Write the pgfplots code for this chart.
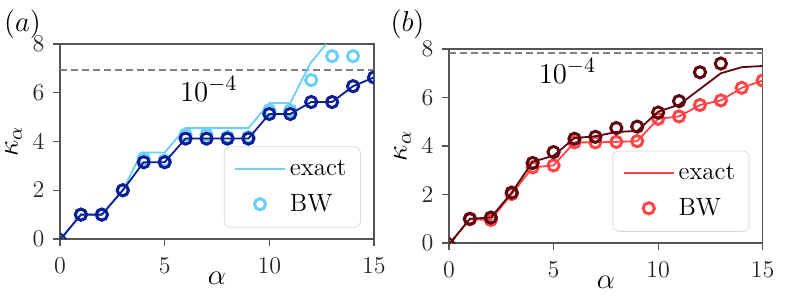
\documentclass[border=0pt]{standalone}
\usepackage{pgfplots}
\pgfplotsset{compat=1.18}
\definecolor{lblue}{HTML}{6CCFF6}
\definecolor{dblue}{HTML}{0B1E96}
\definecolor{lred}{HTML}{FF4545}
\definecolor{dred}{HTML}{5E0610}
\definecolor{frame}{HTML}{555555}
\begin{document}
\begin{tikzpicture}
\path[use as bounding box] (0pt,0pt) rectangle (394.5pt,148pt);
\pgfplotsset{
  myax/.style={
    scale only axis, anchor=south west,
    xmin=0, xmax=15, ymin=0, ymax=8,
    xtick={0,5,10,15}, ytick={0,2,4,6,8},
    axis line style={draw=frame, line width=0.6pt},
    tick align=outside, xtick pos=bottom, ytick pos=left,
    major tick length=3.3pt,
    tick style={draw=frame, line width=0.6pt},
    ticklabel style={font=\fontsize{12.5}{14}\selectfont, text=black!85},
    xticklabel style={yshift=-2.5pt},
    yticklabel style={xshift=-1pt},
    clip marker paths=true,
    xlabel={$\alpha$}, ylabel={$\kappa_\alpha$},
    label style={font=\fontsize{14.5}{16}\selectfont},
    xlabel style={at={(axis description cs:0.5,-0.2)}, anchor=center},
    ylabel style={at={(axis description cs:-0.148,0.5)}, anchor=center},
    legend cell align=left,
    legend style={at={(axis description cs:0.958,0.058)}, anchor=south east,
      draw=black!15, rounded corners=3pt, fill=white,
      font=\fontsize{12.5}{14}\selectfont, row sep=4pt,
      inner xsep=5pt, inner ysep=4.5pt},
    /tikz/every even column/.append style={column sep=6pt},
  },
  linelegend/.style={legend image code/.code={\draw[##1] (0pt,0pt) -- (25pt,0pt);}},
  marklegend/.style={legend image code/.code={\draw[##1] plot coordinates {(12.5pt,0pt)};}},
  bw/.style={only marks, mark=o, mark size=2.8pt, line width=1.5pt},
}
% ---------- panel (a) ----------
\begin{axis}[myax, at={(30pt,28.5pt)}, width=157pt, height=97.5pt]
\addplot[gray, line width=0.9pt, dash pattern=on 3.5pt off 2pt, forget plot] coordinates {(0,6.93)(15,6.93)};
\addplot[lblue, line width=0.9pt, linelegend] coordinates {
(0.15,0.12)(1,1)(2,1)(3,2)(3.9,3.55)(5,3.55)(6,4.55)(9,4.55)(10,5.58)(11,5.58)(11.95,7.2)(13,8.3)};
\addlegendentry{exact}
\addplot[lblue, bw, marklegend] coordinates {
(1,1)(2,1)(3,2)(4,3.3)(5,3.22)(6,4.28)(7,4.28)(8,4.18)(9,4.18)(10,5.28)(11,5.28)(12,6.52)(13,7.5)(14,7.5)};
\addlegendentry{BW}
\addplot[dblue, line width=0.9pt, forget plot] coordinates {
(0.15,0.12)(1,1)(2,1)(3,2)(4,3.15)(5,3.15)(6,4.12)(7,4.12)(8,4.12)(9,4.12)(10,5.13)(11,5.13)(12,5.62)(13,5.62)(14,6.27)(15,6.63)};
\addplot[dblue, bw, forget plot] coordinates {
(1,1)(2,1)(3,2)(4,3.15)(5,3.15)(6,4.12)(7,4.12)(8,4.12)(9,4.12)(10,5.13)(11,5.13)(12,5.62)(13,5.62)(14,6.27)(15,6.63)};
\addplot[dblue, only marks, mark=x, mark size=2pt, line width=0.9pt, forget plot] coordinates {(0.15,0.12)};
\node[font=\fontsize{15}{17}\selectfont] at (axis cs:7.1,6.15) {$10^{-4}$};
\end{axis}
% ---------- panel (b) ----------
\begin{axis}[myax, at={(224.5pt,26.5pt)}, width=156.85pt, height=97pt]
\addplot[gray, line width=0.9pt, dash pattern=on 3.5pt off 2pt, forget plot] coordinates {(0,7.85)(15,7.85)};
\addplot[lred, line width=0.9pt, linelegend] coordinates {
(0.15,0.1)(1,0.98)(2,0.95)(3,2.02)(4,3.12)(5,3.2)(6,4.15)(7,4.15)(8,4.17)(9,4.2)(10,5.12)(11,5.22)(12,5.69)(13,5.88)(14,6.4)(15,6.7)};
\addlegendentry{exact}
\addplot[lred, bw, marklegend] coordinates {
(1,0.98)(2,0.95)(3,2.02)(4,3.12)(5,3.2)(6,4.15)(7,4.15)(8,4.17)(9,4.2)(10,5.12)(11,5.22)(12,5.69)(13,5.88)(14,6.4)(15,6.7)};
\addlegendentry{BW}
\addplot[dred, line width=0.9pt, forget plot] coordinates {
(0.15,0.1)(1,1)(2,1.05)(3,2.08)(4,3.35)(5,3.6)(6,4.33)(7,4.4)(8,4.58)(9,4.62)(10,5.42)(11,5.7)(12,6.35)(13,7.0)(14,7.25)(15,7.3)};
\addplot[dred, bw, forget plot] coordinates {
(1,1)(2,1.05)(3,2.08)(4,3.3)(5,3.75)(6,4.3)(7,4.38)(8,4.74)(9,4.8)(10,5.38)(11,5.85)(12,7.04)(13,7.4)(14,8.02)(15,8.02)};
\addplot[dred, only marks, mark=x, mark size=2pt, line width=0.9pt, forget plot] coordinates {(0.15,0.1)};
\node[font=\fontsize{15}{17}\selectfont] at (axis cs:5.66,7.09) {$10^{-4}$};
\end{axis}
\node[font=\fontsize{14}{16}\selectfont] at (11.25pt,135.75pt) {$(a)$};
\node[font=\fontsize{14}{16}\selectfont] at (203.75pt,135.75pt) {$(b)$};
\end{tikzpicture}
\end{document}
